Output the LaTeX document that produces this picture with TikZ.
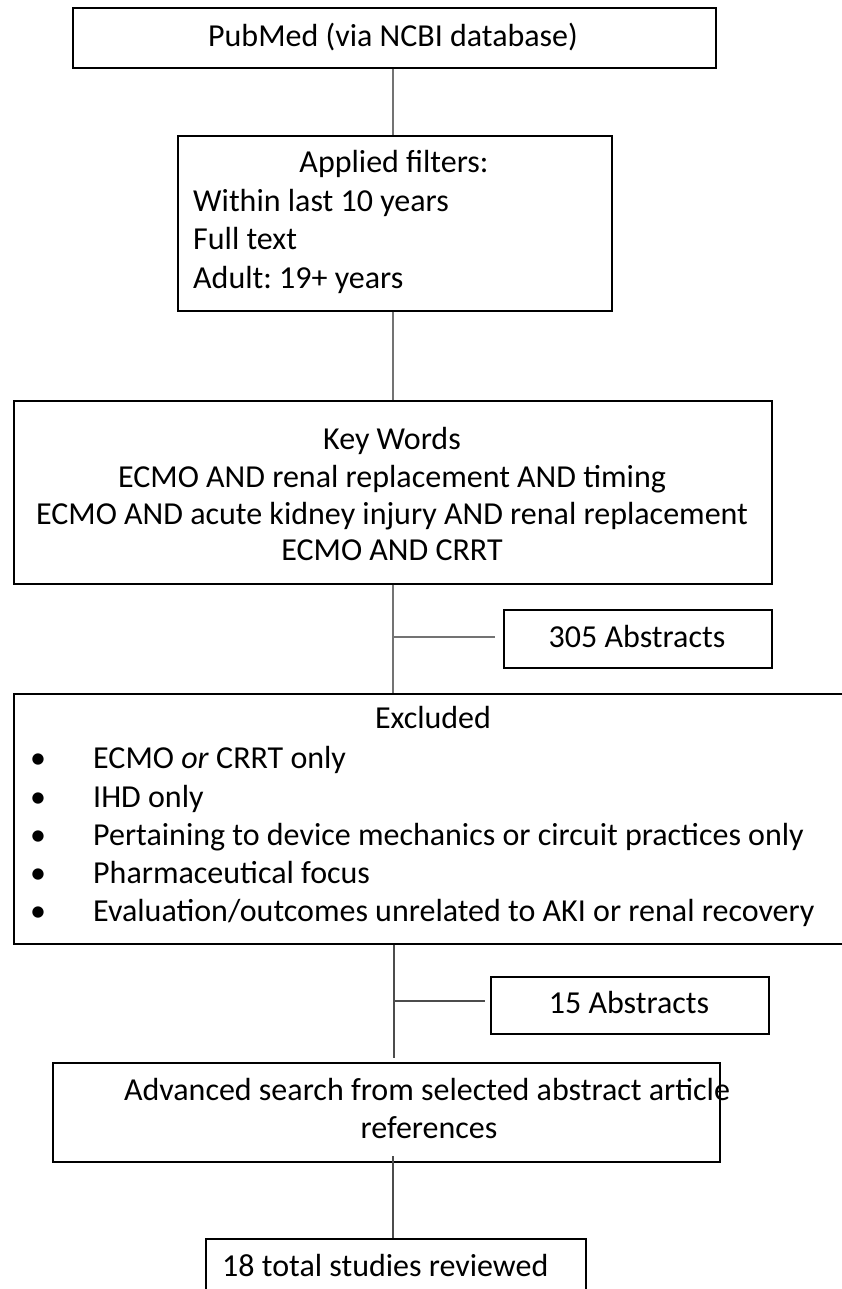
\documentclass[tikz,border=0pt]{standalone}
\usepackage{fontspec}
\setmainfont{Carlito}
\frenchspacing
\begin{document}
\begin{tikzpicture}[x=1pt,y=-1pt,
  box/.style={draw=black,line width=1.7pt,rectangle,inner sep=0pt,anchor=north west},
  txt/.style={inner sep=0pt,font=\fontsize{32}{38}\selectfont},
  conn/.style={draw=black!55,line width=1.5pt},
  thinconn/.style={draw=black!70,line width=1.1pt}]
\useasboundingbox (0,0) rectangle (842,1289);
% boxes
\node[box,minimum width=643pt,minimum height=60pt] (b1) at (72,7) {};
\node[box,minimum width=434pt,minimum height=175pt] (b2) at (177,135) {};
\node[box,minimum width=758pt,minimum height=183pt] (b3) at (13,400) {};
\node[box,minimum width=268pt,minimum height=58pt] (a305) at (503,609) {};
\node[box,minimum width=840pt,minimum height=250pt] (ex) at (13,693) {};
\node[box,minimum width=278pt,minimum height=57pt] (a15) at (490,976) {};
\node[box,minimum width=667pt,minimum height=99pt] (b6) at (52,1062) {};
\node[box,minimum width=380pt,minimum height=80pt] (b7) at (205,1238) {};
% texts
\node[txt,anchor=base] (t1) at (393,47) {PubMed (via NCBI database)};
\node[txt,anchor=base] (t2a) at (394,173) {Applied filters:};
\node[txt,anchor=base west] (t2b) at (193,212) {Within last 10 years};
\node[txt,anchor=base west] (t2c) at (193,250) {Full text};
\node[txt,anchor=base west] (t2d) at (193,288) {Adult: 19+ years};
\node[txt,anchor=base] (t3a) at (392,449) {Key Words};
\node[txt,anchor=base] (t3b) at (392,487) {ECMO AND renal replacement AND timing};
\node[txt,anchor=base] (t3c) at (392,524) {ECMO AND acute kidney injury AND renal replacement};
\node[txt,anchor=base] (t3d) at (392,560) {ECMO AND CRRT};
\node[txt,anchor=base] (t305) at (637,647) {305 Abstracts};
\node[txt,anchor=base] (t5a) at (433,728) {Excluded};
\node[txt,anchor=base] (bu1) at (38,768) {\textbullet};
\node[txt,anchor=base] (bu2) at (38,807) {\textbullet};
\node[txt,anchor=base] (bu3) at (38,845) {\textbullet};
\node[txt,anchor=base] (bu4) at (38,883) {\textbullet};
\node[txt,anchor=base] (bu5) at (38,921) {\textbullet};
\node[txt,anchor=base west] (t5b) at (93,768) {ECMO \textit{or} CRRT only};
\node[txt,anchor=base west] (t5c) at (93,807) {IHD only};
\node[txt,anchor=base west] (t5d) at (93,845) {Pertaining to device mechanics or circuit practices only};
\node[txt,anchor=base west] (t5e) at (93,883) {Pharmaceutical focus};
\node[txt,anchor=base west] (t5f) at (93,921) {Evaluation/outcomes unrelated to AKI or renal recovery};
\node[txt,anchor=base] (t15) at (629,1013) {15 Abstracts};
\node[txt,anchor=base] (t6a) at (427,1100) {Advanced search from selected abstract article};
\node[txt,anchor=base] (t6b) at (429,1138) {references};
\node[txt,anchor=base west] (t7) at (222,1276) {18 total studies reviewed};
% connectors
\coordinate (j1) at (393,637);
\coordinate (j2) at (395,1001);
\draw[conn] (b1.south -| 393,0) -- (b2.north -| 393,0);
\draw[conn] (b2.south -| 393,0) -- (b3.north -| 393,0);
\draw[conn] (b3.south -| 393,0) -- (ex.north -| 393,0);
\draw[conn] (j1) -- ([xshift=-8pt]a305.west |- j1);
\draw[thinconn] (ex.south -| 394,0) -- (394,1058);
\draw[thinconn] (j2) -- ([xshift=-5pt]a15.west |- j2);
\draw[thinconn] (393,1156) -- (b7.north -| 393,0);
\end{tikzpicture}
\end{document}
